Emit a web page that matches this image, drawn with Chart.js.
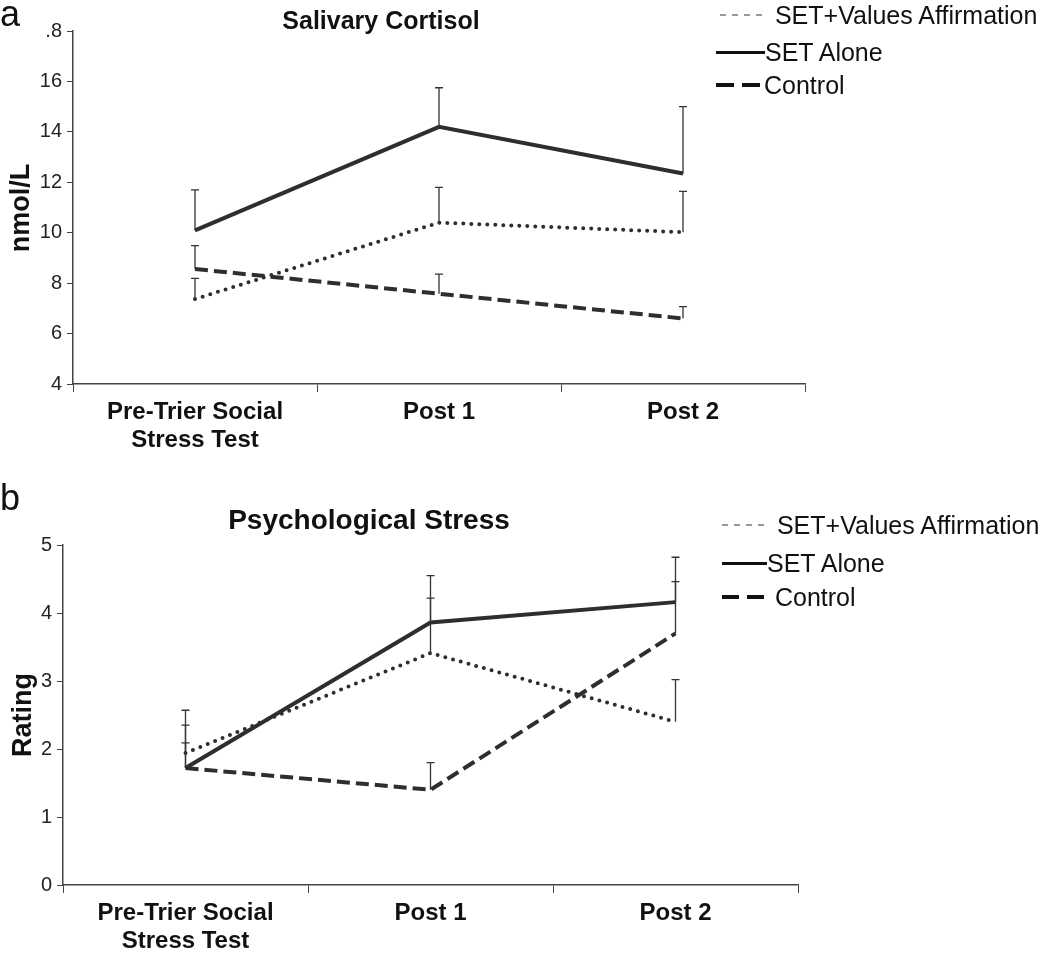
<!DOCTYPE html>
<html>
<head>
<meta charset="utf-8">
<script src="https://cdn.jsdelivr.net/npm/chart.js@4.4.1/dist/chart.umd.min.js"></script>
<style>
  body { margin: 0; background: #fff; }
  #wrap { position: relative; width: 1050px; height: 956px; font-family: "Liberation Sans", Arial, sans-serif; color: #111; }
  canvas { position: absolute; left: 0; }
  .txt { position: absolute; white-space: nowrap; }
  .panel { font-size: 36px; line-height: 40px; }
  .title { font-weight: bold; transform: translateX(-50%); }
  .ytitle { font-weight: bold; font-size: 27px; transform: translate(-50%, -50%) rotate(-90deg); }
  .leg { position: absolute; height: 30px; display: flex; align-items: center; font-size: 25px; line-height: 30px; }
  .sample { display: inline-block; margin-right: 4px; }
</style>
</head>
<body>
<div id="wrap">
  <canvas id="cortisol" width="1050" height="470" style="top:0"></canvas>
  <canvas id="stress" width="1050" height="486" style="top:470px"></canvas>

  <div class="txt panel" style="left:0;top:-6px">a</div>
  <div class="txt panel" style="left:0;top:478px">b</div>

  <div class="txt title" style="left:381px;top:6px;font-size:25px">Salivary Cortisol</div>
  <div class="txt title" style="left:369px;top:504px;font-size:28px">Psychological Stress</div>

  <div class="txt ytitle" style="left:20px;top:208px">nmol/L</div>
  <div class="txt ytitle" style="left:22px;top:715px">Rating</div>

  <div class="leg" style="left:720px;top:0px"><span class="sample" style="width:44px;height:2px;background:repeating-linear-gradient(to right,#999 0 6px,transparent 6px 12px)"></span>&nbsp;SET+Values Affirmation</div>
  <div class="leg" style="left:716px;top:37px"><span class="sample" style="width:49px;height:3px;background:#111;margin-right:0"></span>SET Alone</div>
  <div class="leg" style="left:716px;top:70px"><span class="sample" style="width:44px;height:4px;background:repeating-linear-gradient(to right,#111 0 18px,transparent 18px 26px)"></span>Control</div>

  <div class="leg" style="left:722px;top:510px"><span class="sample" style="width:44px;height:2px;background:repeating-linear-gradient(to right,#999 0 6px,transparent 6px 12px)"></span>&nbsp;SET+Values Affirmation</div>
  <div class="leg" style="left:722px;top:548px"><span class="sample" style="width:45px;height:3px;background:#111;margin-right:0"></span>SET Alone</div>
  <div class="leg" style="left:722px;top:582px"><span class="sample" style="width:42px;height:4px;background:repeating-linear-gradient(to right,#111 0 17px,transparent 17px 25px)"></span>&nbsp;Control</div>
</div>

<script>
// time points
const timePoints = [["Pre-Trier Social", "Stress Test"], "Post 1", "Post 2"];

// panel a: salivary cortisol (nmol/L), means and SE
const cortisolAffirm = [7.37, 10.4, 10.02];
const cortisolAffirmErr = [0.82, 1.4, 1.62];
const cortisolAlone = [10.09, 14.2, 12.35];
const cortisolAloneErr = [1.61, 1.55, 2.65];
const cortisolControl = [8.56, 7.58, 6.6];
const cortisolControlErr = [0.93, 0.78, 0.47];
const cortisolTicks = [4, 6, 8, 10, 12, 14, 16, 18];

// panel b: psychological stress rating, means and SE
const stressAffirm = [1.94, 3.41, 2.40];
const stressAffirmErr = [0.41, 0.81, 0.62];
const stressAlone = [1.72, 3.86, 4.16];
const stressAloneErr = [0.85, 0.69, 0.66];
const stressControl = [1.72, 1.40, 3.70];
const stressControlErr = [0.37, 0.40, 0.76];
const stressTicks = [0, 1, 2, 3, 4, 5];

const FONT = "'Liberation Sans', Arial, sans-serif";
const INK = "#2e2e2e";

// draws the upper half of each error bar
const errorBars = {
    id: "errorBars",
    afterDatasetsDraw(chart) {
        const ctx = chart.ctx;
        const yScale = chart.scales.y;
        chart.data.datasets.forEach((ds, i) => {
            const meta = chart.getDatasetMeta(i);
            meta.data.forEach((pt, j) => {
                const top = yScale.getPixelForValue(ds.data[j] + ds.errors[j]);
                ctx.save();
                ctx.strokeStyle = "#333";
                ctx.lineWidth = 1.3;
                ctx.beginPath();
                ctx.moveTo(pt.x, pt.y);
                ctx.lineTo(pt.x, top);
                ctx.moveTo(pt.x - 4, top);
                ctx.lineTo(pt.x + 4, top);
                ctx.stroke();
                ctx.restore();
            });
        });
    },
};

function series(affirm, affirmErr, alone, aloneErr, control, controlErr) {
    return [
        {
            label: "SET+Values Affirmation",
            data: affirm, errors: affirmErr,
            borderColor: INK, borderWidth: 4,
            borderDash: [0, 8], borderCapStyle: "round",
        },
        {
            label: "SET Alone",
            data: alone, errors: aloneErr,
            borderColor: INK, borderWidth: 4,
        },
        {
            label: "Control",
            data: control, errors: controlErr,
            borderColor: INK, borderWidth: 4,
            borderDash: [13, 6],
        },
    ];
}

function makeChart(id, datasets, ticks, box) {
    const ctx = document.getElementById(id).getContext("2d");
    return new Chart(ctx, {
        type: "line",
        data: { labels: timePoints, datasets: datasets },
        options: {
            responsive: false,
            animation: false,
            clip: false,
            elements: { point: { radius: 0 }, line: { tension: 0 } },
            layout: { padding: { top: box.top, right: box.right, left: 0, bottom: 0 } },
            plugins: { legend: { display: false }, title: { display: false }, tooltip: { enabled: false } },
            scales: {
                x: {
                    offset: true,
                    afterFit: (s) => { s.height = box.xHeight; },
                    border: { display: true, color: "#444", width: 1.5 },
                    grid: { drawOnChartArea: false, drawTicks: true, tickLength: 8, color: "#444", offset: true },
                    ticks: {
                        color: "#111", padding: 6, maxRotation: 0,
                        font: { family: FONT, size: 24, weight: "bold", lineHeight: 1.17 },
                    },
                },
                y: {
                    min: ticks[0],
                    max: ticks[ticks.length - 1],
                    afterFit: (s) => { s.width = box.yWidth; },
                    afterBuildTicks: (s) => { s.ticks = ticks.map((v) => ({ value: v })); },
                    border: { display: true, color: "#444", width: 1.5 },
                    grid: { drawOnChartArea: false, drawTicks: true, tickLength: 6, color: "#444" },
                    ticks: {
                        color: "#222", padding: 5,
                        font: { family: FONT, size: 20 },
                        callback: box.tickLabel,
                    },
                },
            },
        },
        plugins: [errorBars],
    });
}

makeChart(
    "cortisol",
    series(cortisolAffirm, cortisolAffirmErr, cortisolAlone, cortisolAloneErr, cortisolControl, cortisolControlErr),
    cortisolTicks,
    { top: 31, right: 245, xHeight: 86, yWidth: 73, tickLabel: (v) => (v === 18 ? ".8" : v) }
);

makeChart(
    "stress",
    series(stressAffirm, stressAffirmErr, stressAlone, stressAloneErr, stressControl, stressControlErr),
    stressTicks,
    { top: 75, right: 252, xHeight: 71, yWidth: 63, tickLabel: (v) => v }
);
</script>
</body>
</html>
